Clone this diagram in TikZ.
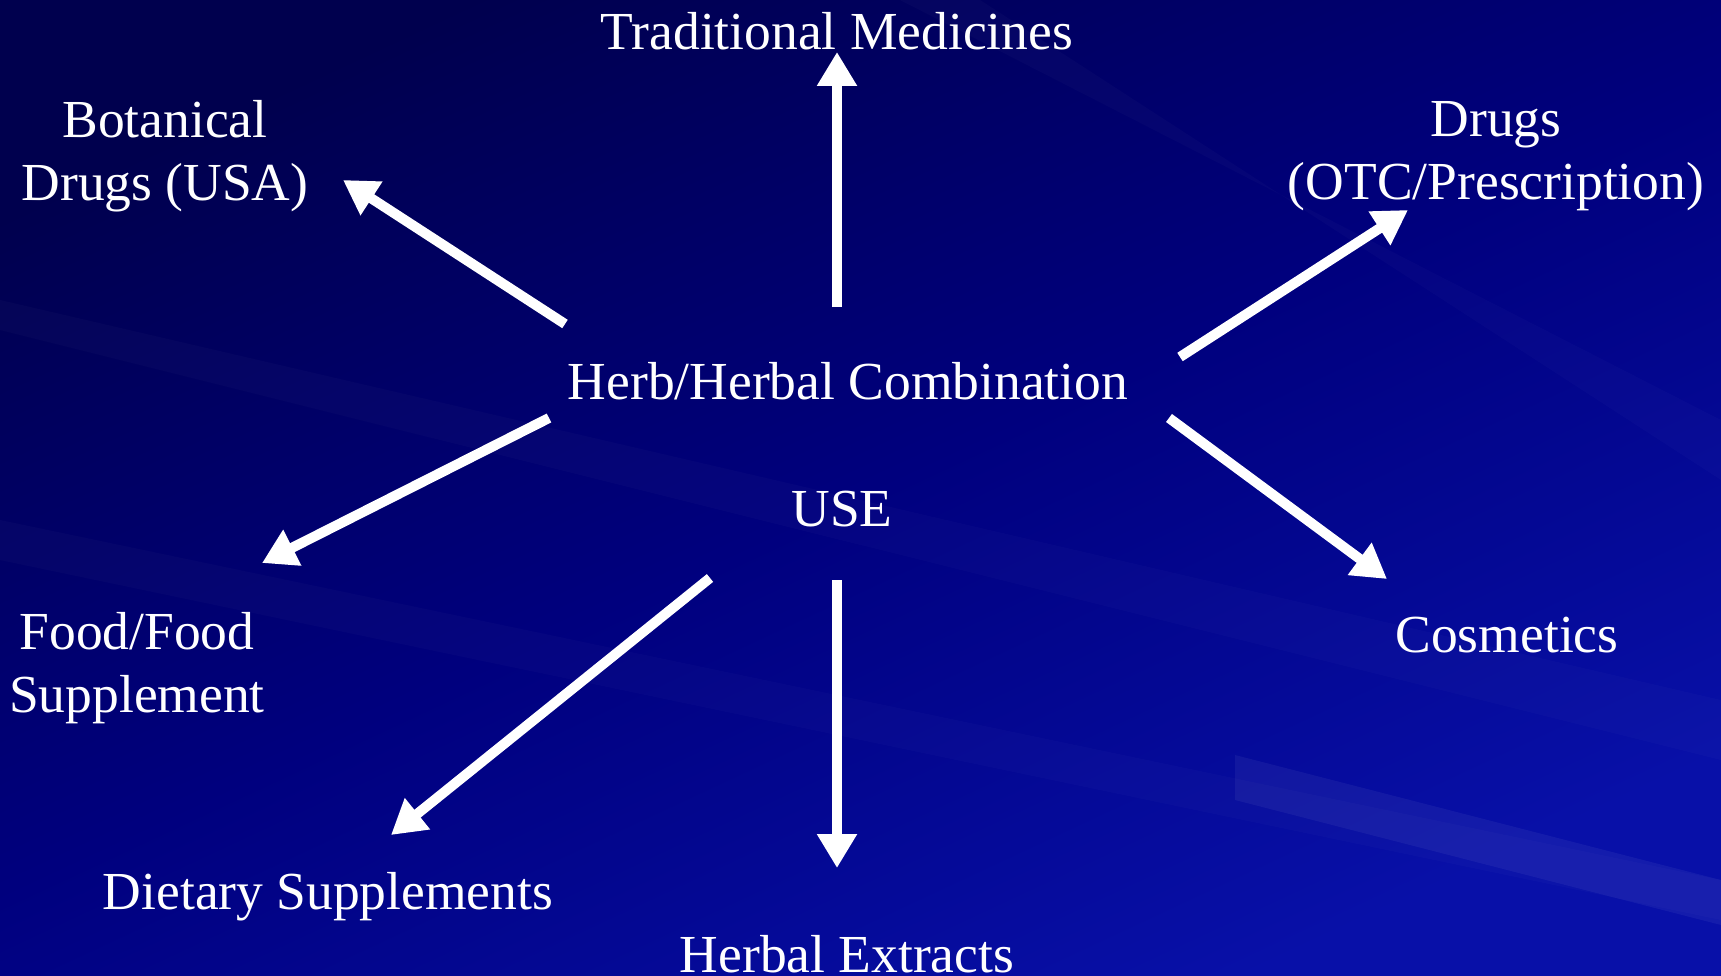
\documentclass[tikz,border=0pt]{standalone}
\usepackage{fontspec}
\setmainfont{Liberation Serif}
\usetikzlibrary{arrows.meta}
\definecolor{bgdark}{HTML}{00004E}
\definecolor{bgmid}{HTML}{00007E}
\definecolor{bglight}{HTML}{0810A8}
\tikzset{
  lbl/.style={text=white, font=\fontsize{53.5}{63}\selectfont, align=center, inner sep=0pt},
  arr/.style={draw=white, line width=10pt, -{Triangle[length=34pt,width=38pt]}},
}
\begin{document}
\begin{tikzpicture}[x=1pt,y=-1pt]
\useasboundingbox (0,0) rectangle (1721,976);
\shade[shading=axis, top color=bgdark, bottom color=bglight, middle color=bgmid, shading angle=25] (0,0) rectangle (1721,976);
% faint streaks
\fill[white, opacity=0.02] (0,300) -- (1721,700) -- (1721,760) -- (0,330) -- cycle;
\fill[white, opacity=0.02] (0,520) -- (1721,880) -- (1721,920) -- (0,560) -- cycle;
\fill[white, opacity=0.05] (1235,755) -- (1721,880) -- (1721,925) -- (1235,800) -- cycle;
\fill[white, opacity=0.02] (900,0) -- (1721,420) -- (1721,480) -- (980,0) -- cycle;

\node[lbl] (trad) at (837,31) {Traditional Medicines};
\node[lbl] (bot) at (165,156) {Botanical\\Drugs (USA)};
\node[lbl] (drugs) at (1496,156) {Drugs\\(OTC/Prescription)};
\node[lbl] (herb) at (848,381) {Herb/Herbal Combination};
\node[lbl] (use) at (842,509) {USE};
\node[lbl] (food) at (137,668) {Food/Food\\Supplement};
\node[lbl] (cos) at (1507,635) {Cosmetics};
\node[lbl] (diet) at (328,897) {Dietary Supplements};
\node[lbl] (ext) at (847,954) {Herbal Extracts};

\coordinate (s1) at (837,307);
\coordinate (e1) at (837,52);
\coordinate (s2) at (565,324);
\coordinate (e2) at (343,180);
\coordinate (s3) at (1180,357);
\coordinate (e3) at (1408,210);
\coordinate (s4) at (549,418);
\coordinate (e4) at (262,563);
\coordinate (s5) at (1169,418);
\coordinate (e5) at (1387,579);
\coordinate (s6) at (710,578);
\coordinate (e6) at (391,835);
\coordinate (s7) at (837,580);
\coordinate (e7) at (837,868);

\draw[arr] (s1) -- (e1);
\draw[arr] (s2) -- (e2);
\draw[arr] (s3) -- (e3);
\draw[arr] (s4) -- (e4);
\draw[arr] (s5) -- (e5);
\draw[arr] (s6) -- (e6);
\draw[arr] (s7) -- (e7);
\end{tikzpicture}
\end{document}
